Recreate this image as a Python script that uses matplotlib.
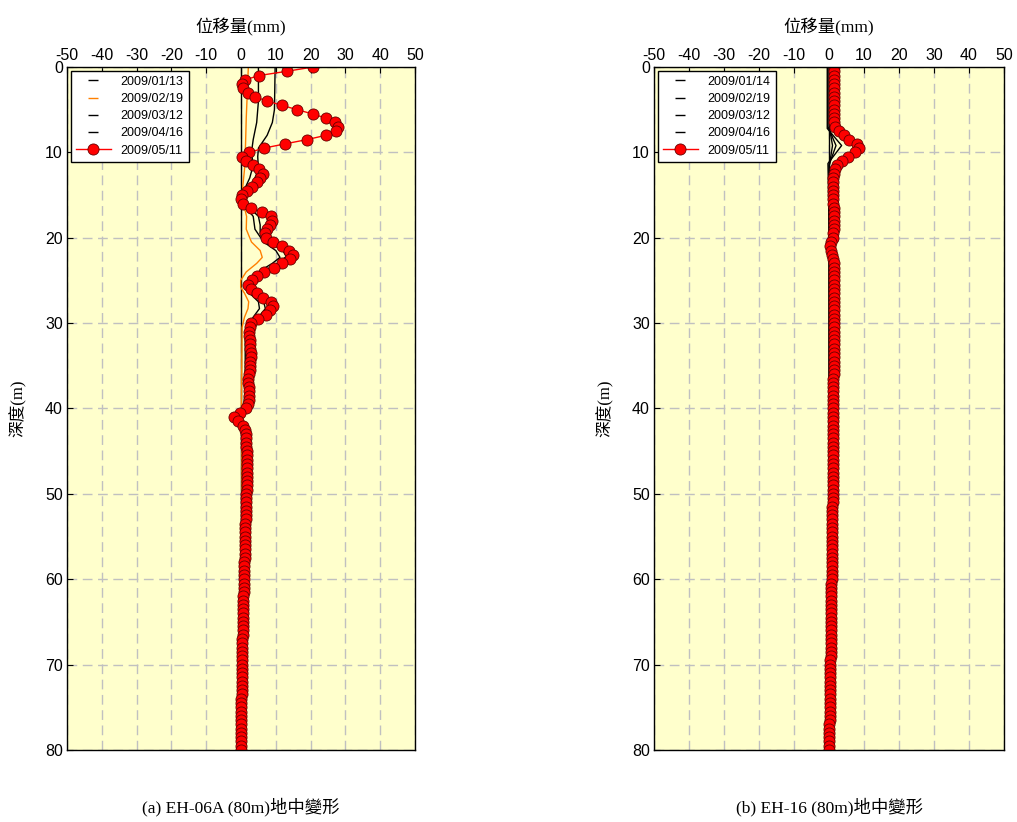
import numpy as np
import matplotlib
matplotlib.use("Agg")
import matplotlib.pyplot as plt
from matplotlib.lines import Line2D

plt.rcParams["font.family"] = ["Liberation Sans", "DejaVu Sans"]
plt.rcParams["axes.unicode_minus"] = False
CJK = ["Liberation Serif", "Noto Sans CJK TC"]

# --- Profondeurs des lectures (pas de 0.5 m) ---
depth = np.arange(0, 80.5, 0.5)

# --- EH-06A : lecture 2009/05/11 (mm) ---
eh06_0511 = [
    20.7, 13.2, 5.2, 1.2, 0.2, 0.6, 1.9, 4.0, 7.6, 11.8,
    16.1, 20.6, 24.4, 27.0, 27.8, 27.2, 24.4, 19.0, 12.7, 6.6,
    2.4, 0.2, 1.3, 3.5, 5.3, 6.4, 5.4, 4.7, 3.1, 1.6,
    0.2, -0.1, 0.7, 2.8, 6.1, 8.6, 8.8, 8.2, 7.4, 6.9,
    7.2, 9.3, 11.7, 13.9, 14.8, 14.0, 11.9, 9.6, 6.7, 4.5,
    3.1, 2.1, 2.9, 4.7, 6.4, 8.6, 9.1, 8.4, 7.1, 5.0,
    3.0, 2.6, 2.4, 2.4, 2.5, 2.6, 2.7, 2.8, 2.8, 2.7,
    2.6, 2.5, 2.3, 2.1, 2.1, 2.2, 2.4, 2.4, 2.2, 1.9,
    1.4, -0.3, -2.0, -0.8, 0.6, 1.1, 1.3, 1.4, 1.4, 1.5,
    1.6, 1.7, 1.8, 1.8, 1.8, 1.8, 1.7, 1.7, 1.6, 1.6,
    1.5, 1.45, 1.4, 1.4, 1.35, 1.3, 1.3, 1.25, 1.2, 1.2,
    1.15, 1.1, 1.1, 1.05, 1.0, 1.0, 0.95, 0.95, 0.9, 0.9,
    0.85, 0.8, 0.8, 0.75, 0.7, 0.7, 0.65, 0.6, 0.6, 0.55,
    0.5, 0.5, 0.45, 0.45, 0.4, 0.4, 0.35, 0.35, 0.3, 0.3,
    0.3, 0.25, 0.25, 0.2, 0.2, 0.2, 0.15, 0.15, 0.1, 0.1,
    0.1, 0.05, 0.05, 0.0, 0.0, 0.0, -0.05, -0.05, -0.1, -0.1,
    -0.1,
]

# --- EH-06A : lectures intermédiaires (profondeurs clés) ---
eh06_0113_d = [0, 80]
eh06_0113_x = [0.0, 0.0]

eh06_0219_d = [0, 3, 6, 9, 12, 14, 15.5, 16.5, 17.5, 19, 20.5, 21.5, 22.3, 23,
               24, 25, 25.8, 26.5, 27.5, 28.3, 29.3, 30.5, 35, 40, 41, 42,
               50, 60, 80]
eh06_0219_x = [2.1, 1.8, 1.5, 1.3, 1.0, 0.5, 0.3, 1.0, 1.6, 1.5, 3.0, 5.5, 6.1,
               4.5, 1.5, -0.1, -0.1, 1.0, 2.2, 2.0, 1.0, 0.3, 0.2, 0.1, -0.5,
               0.2, 0.3, 0.2, 0.0]

eh06_0312_d = [0, 4, 6.5, 8.5, 10, 11.5, 13, 14.5, 15.5, 16.5, 17.5, 19, 20.5,
               21.5, 22.3, 23, 24, 25, 25.8, 26.5, 27.5, 28.3, 29.3, 30.5, 32,
               35, 38, 40, 40.8, 41.5, 42.5, 45, 50, 60, 70, 80]
eh06_0312_x = [5.0, 5.0, 4.5, 3.5, 3.0, 3.5, 2.5, 0.8, 0.2, 1.5, 3.5, 4.0, 6.5,
               10.0, 11.2, 9.0, 5.0, 2.0, 1.2, 2.5, 5.0, 5.3, 3.5, 1.8, 1.2,
               1.2, 1.1, 0.8, -2.2, -0.8, 1.0, 1.2, 1.0, 0.6, 0.2, 0.0]

eh06_0416_d = [0, 5, 6.5, 8, 9.5, 10.5, 12, 13.5, 14.5, 15.5, 16.5, 17.5, 18.5,
               19.5, 20.5, 21.5, 22.2, 23, 24, 25, 25.8, 26.5, 27.5, 28.3, 29.3,
               30.5, 32, 35, 38, 40, 40.8, 41.5, 42.5, 45, 50, 60, 70, 80]
eh06_0416_x = [9.8, 9.6, 9.0, 7.5, 5.0, 4.8, 5.0, 3.5, 1.5, 0.3, 2.5, 5.0, 5.5,
               5.5, 8.0, 12.0, 13.0, 10.5, 6.0, 3.0, 2.0, 3.5, 6.5, 7.0, 5.0,
               2.5, 1.5, 1.5, 1.4, 1.0, -2.0, -0.5, 1.2, 1.5, 1.3, 0.8, 0.3, 0.0]

# --- EH-16 : lecture 2009/05/11 (mm) ---
eh16_0511 = [
    1.4, 1.4, 1.3, 1.3, 1.3, 1.3, 1.3, 1.3, 1.3, 1.3,
    1.3, 1.3, 1.3, 1.3, 1.6, 2.8, 4.2, 5.8, 8.0, 8.7,
    7.5, 5.5, 3.6, 2.3, 1.7, 1.3, 1.1, 1.0, 1.0, 1.0,
    1.1, 1.1, 1.2, 1.3, 1.4, 1.4, 1.4, 1.4, 1.3, 1.2,
    1.0, 0.6, 0.4, 0.6, 0.9, 1.1, 1.3, 1.4, 1.4, 1.4,
    1.4, 1.4, 1.4, 1.4, 1.4, 1.4, 1.4, 1.4, 1.3, 1.3,
    1.3, 1.3, 1.3, 1.3, 1.3, 1.3, 1.3, 1.3, 1.3, 1.3,
    1.3, 1.3, 1.3, 1.2, 1.2, 1.2, 1.2, 1.2, 1.2, 1.2,
    1.2, 1.2, 1.2, 1.2, 1.2, 1.2, 1.2, 1.1, 1.1, 1.1,
    1.1, 1.1, 1.1, 1.1, 1.1, 1.0, 1.0, 1.0, 1.0, 1.0,
    1.0, 1.0, 1.0, 0.9, 0.9, 0.9, 0.9, 0.9, 0.9, 0.9,
    0.9, 0.9, 0.9, 0.8, 0.8, 0.8, 0.8, 0.8, 0.8, 0.8,
    0.8, 0.7, 0.7, 0.7, 0.7, 0.7, 0.7, 0.6, 0.6, 0.6,
    0.6, 0.6, 0.6, 0.5, 0.5, 0.5, 0.5, 0.5, 0.5, 0.4,
    0.4, 0.4, 0.4, 0.4, 0.3, 0.3, 0.3, 0.3, 0.3, 0.2,
    0.2, 0.2, 0.2, 0.2, 0.1, 0.1, 0.1, 0.1, 0.1, 0.1,
    0.0,
]

eh16_0114_d = [0, 80]
eh16_0114_x = [0.0, 0.0]
eh16_0219_d = [0, 7, 8, 9.2, 10.5, 11.5, 20, 40, 60, 80]
eh16_0219_x = [0.1, 0.1, 0.5, 1.0, 0.5, 0.1, 0.0, 0.0, 0.0, 0.0]
eh16_0312_d = [0, 7, 9.2, 11.5, 20, 40, 60, 80]
eh16_0312_x = [-0.3, -0.3, 2.0, 0.0, 0.1, 0.1, 0.1, 0.0]
eh16_0416_d = [0, 7.2, 9.2, 11.3, 20, 40, 60, 80]
eh16_0416_x = [-0.5, -0.5, 3.6, -0.3, 0.1, 0.2, 0.1, 0.0]

xticks = [-50, -40, -30, -20, -10, 0, 10, 20, 30, 40, 50]
yticks = [0, 10, 20, 30, 40, 50, 60, 70, 80]


def draw_panel(ax, series, last, dates, caption, colors):
    ax.set_facecolor("#FFFFCC")
    for (d, x), c in zip(series, colors):
        ax.plot(x, d, color=c, lw=1.0)
    ax.plot(last, depth, color="red", lw=1.0, marker="o", ms=8,
            mfc="red", mec="#660000", mew=0.6)

    ax.set_xlim(-50, 50)
    ax.set_ylim(80, 0)
    ax.set_xticks(xticks)
    ax.set_yticks(yticks)
    ax.xaxis.tick_top()
    ax.tick_params(direction="in", labelsize=11.5, length=4, pad=3)
    ax.grid(True, color="#C0C0C0", ls=(0, (7, 4)), lw=1.0)
    ax.set_axisbelow(True)
    for s in ax.spines.values():
        s.set_linewidth(1.0)

    ax.set_title("位移量(mm)", family=CJK, fontsize=12.5, pad=25)
    ax.set_ylabel("深度(m)", family=CJK, fontsize=12, labelpad=13)
    ax.text(0.5, -0.083, caption, transform=ax.transAxes, ha="center",
            va="center", family=CJK, fontsize=12.5)

    # legende : tirets courts pour les lectures intermédiaires
    handles = [Line2D([], [], color=c, marker="_", ls="None", ms=7)
               for c in colors]
    handles.append(Line2D([], [], color="red", lw=1.0, marker="o", ms=8,
                          mfc="red", mec="#660000", mew=0.6))
    ax.legend(handles, dates, loc="upper left", fontsize=9, frameon=True,
              fancybox=False, edgecolor="black", framealpha=1,
              borderaxespad=0.3, handlelength=2.8, labelspacing=0.42)


fig = plt.figure(figsize=(10.17, 8.22), dpi=100)
ax_a = fig.add_axes([0.0659, 0.0876, 0.3422, 0.8309])
ax_b = fig.add_axes([0.6431, 0.0876, 0.3441, 0.8309])

draw_panel(
    ax_a,
    [(eh06_0113_d, eh06_0113_x), (eh06_0219_d, eh06_0219_x),
     (eh06_0312_d, eh06_0312_x), (eh06_0416_d, eh06_0416_x)],
    eh06_0511,
    ["2009/01/13", "2009/02/19", "2009/03/12", "2009/04/16", "2009/05/11"],
    "(a) EH-06A (80m)地中變形",
    ["black", "#FF8000", "black", "black"],
)
draw_panel(
    ax_b,
    [(eh16_0114_d, eh16_0114_x), (eh16_0219_d, eh16_0219_x),
     (eh16_0312_d, eh16_0312_x), (eh16_0416_d, eh16_0416_x)],
    eh16_0511,
    ["2009/01/14", "2009/02/19", "2009/03/12", "2009/04/16", "2009/05/11"],
    "(b) EH-16 (80m)地中變形",
    ["black", "black", "black", "black"],
)

fig.savefig("out.png", dpi=100)
